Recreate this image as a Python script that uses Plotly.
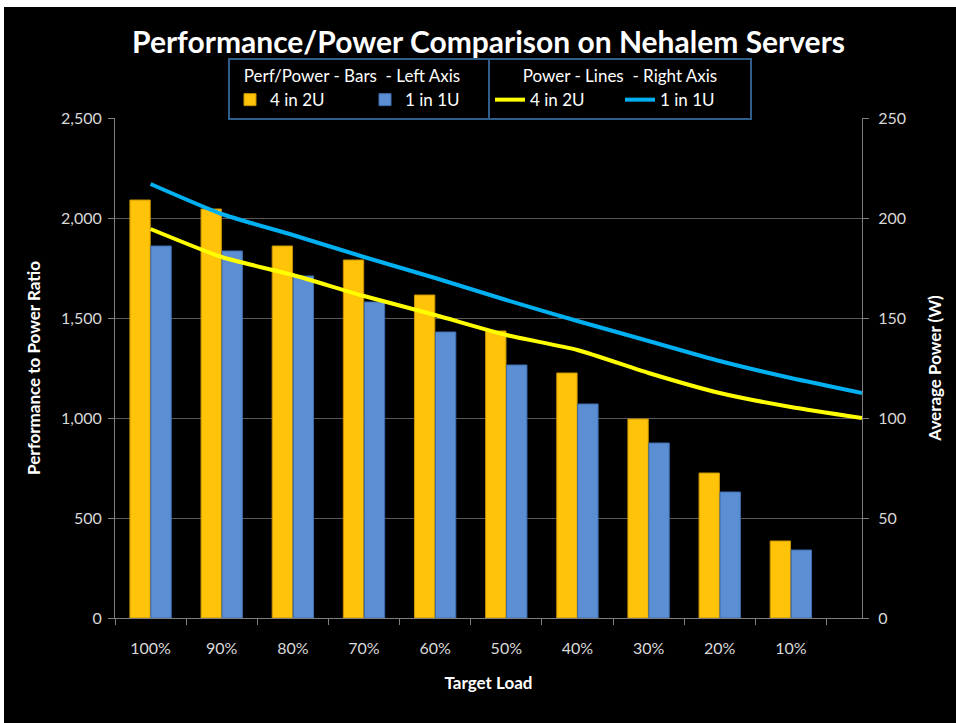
import plotly.graph_objects as go

# target load categories (11th slot is empty, lines run into it)
loads = ["100%", "90%", "80%", "70%", "60%", "50%", "40%", "30%", "20%", "10%", " "]

# perf/power ratio (left axis)
bars_4in2u = [2090, 2045, 1860, 1790, 1615, 1435, 1225, 995, 725, 385]
bars_1in1u = [1860, 1835, 1710, 1580, 1430, 1265, 1070, 875, 630, 340]

# average power in W (right axis)
power_4in2u = [194.5, 180.5, 171.5, 161, 151.5, 141.5, 134, 122.5, 112.5, 105.5, 100]
power_1in1u = [217, 202, 191.5, 180.5, 170, 159, 148.5, 138.5, 128.5, 120, 112.5]

FONT = "Lato, sans-serif"
# page body gets a 7px top / 4px left white margin (like the white frame in the original)
OFF_X, OFF_Y = 4, 7
W, H = 956 - OFF_X, 723 - OFF_Y
ML, MR, MT, MB = 111, 94, 111, 105
PW, PH = W - ML - MR, H - MT - MB


def px_x(x):
    # page x -> paper coords
    return (x - OFF_X - ML) / PW


def px_y(y):
    return (H - MB - (y - OFF_Y)) / PH


fig = go.Figure()

fig.add_trace(go.Bar(
    x=loads[:10], y=bars_4in2u, name="4 in 2U",
    marker=dict(color="#FFC40A", line=dict(color="#C89200", width=1)),
    legend="legend",
))
fig.add_trace(go.Bar(
    x=loads[:10], y=bars_1in1u, name="1 in 1U",
    marker=dict(color="#5B8ED3", line=dict(color="#3F6FAF", width=1)),
    legend="legend",
))
fig.add_trace(go.Scatter(
    x=loads, y=power_4in2u, name="4 in 2U", yaxis="y2", mode="lines",
    line=dict(color="#FFFF00", width=4, shape="spline", smoothing=0.6),
    legend="legend2",
))
fig.add_trace(go.Scatter(
    x=loads, y=power_1in1u, name="1 in 1U", yaxis="y2", mode="lines",
    line=dict(color="#00B0F0", width=4, shape="spline", smoothing=0.6),
    legend="legend2",
))

legend_common = dict(
    orientation="h",
    bgcolor="black",
    bordercolor="#2F5D8C",
    borderwidth=2,
    font=dict(family=FONT, size=17, color="white"),
    yanchor="top",
    xanchor="left",
    y=px_y(58),
    itemwidth=30,
)

tick_font = dict(family=FONT, size=16, color="#D9D9D9")
title_font = dict(family=FONT, size=17, color="white")

fig.update_layout(
    width=W, height=H,
    margin=dict(l=ML, r=MR, t=MT, b=MB),
    paper_bgcolor="black",
    plot_bgcolor="black",
    font=dict(family=FONT, size=16, color="#D9D9D9"),
    title=dict(
        text="<b>Performance/Power Comparison on Nehalem Servers</b>",
        font=dict(family=FONT, size=30, color="white"),
        x=0.5, xanchor="center", xref="paper",
        y=1 - (42 - OFF_Y) / H, yanchor="middle",
    ),
    barmode="group",
    bargap=0.41,
    bargroupgap=0.03,
    showlegend=True,
    legend=dict(
        legend_common, x=px_x(228), entrywidth=90,
        title=dict(text="Perf/Power - Bars  - Left Axis" + "\u00a0" * 6,
                   side="top center",
                   font=dict(family=FONT, size=17, color="white")),
    ),
    legend2=dict(
        legend_common, x=px_x(488), entrywidth=85,
        title=dict(text="Power - Lines  - Right Axis", side="top center",
                   font=dict(family=FONT, size=17, color="white")),
    ),
    xaxis=dict(
        type="category",
        categoryorder="array", categoryarray=loads,
        showgrid=False,
        showline=True, linecolor="#7F7F7F", linewidth=1,
        ticks="outside", tickson="boundaries", ticklen=6, tickcolor="#7F7F7F",
        ticklabelstandoff=16,
        tickfont=tick_font,
        title=dict(text="<b>Target Load</b>", standoff=20, font=title_font),
    ),
    yaxis=dict(
        range=[0, 2500], dtick=500, tickformat=",",
        showgrid=True, gridcolor="#595959", gridwidth=1,
        showline=True, linecolor="#7F7F7F", linewidth=1,
        ticks="outside", ticklen=6, tickcolor="#7F7F7F",
        ticklabelstandoff=3,
        zeroline=False,
        tickfont=tick_font,
        title=dict(text="<b>Performance to Power Ratio</b>", standoff=16,
                   font=title_font),
    ),
    yaxis2=dict(
        overlaying="y", side="right",
        range=[0, 250], dtick=50,
        showgrid=False,
        showline=True, linecolor="#7F7F7F", linewidth=1,
        ticks="outside", ticklen=6, tickcolor="#7F7F7F",
        ticklabelstandoff=6,
        zeroline=False,
        tickfont=tick_font,
        title=dict(text="<b>Average Power (W)</b>", standoff=24,
                   font=title_font),
    ),
)

fig.write_html(
    "out.html",
    post_script="document.body.style.margin='%dpx 0 0 %dpx';" % (OFF_Y, OFF_X),
)
